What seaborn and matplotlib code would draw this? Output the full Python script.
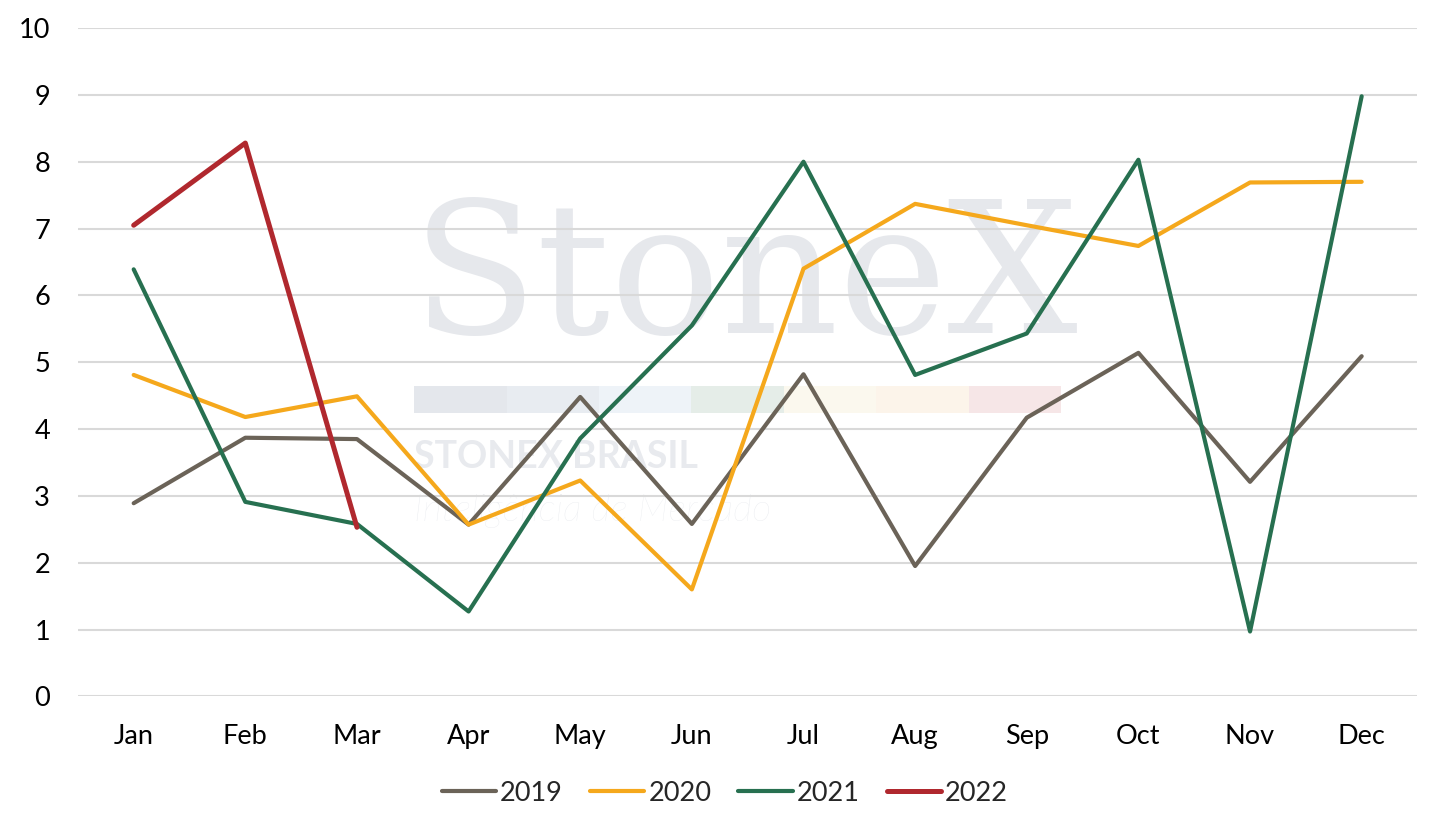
import numpy as np
import pandas as pd
import seaborn as sns
import matplotlib.pyplot as plt
from matplotlib.patches import Rectangle

months = ['Jan', 'Feb', 'Mar', 'Apr', 'May', 'Jun', 'Jul', 'Aug', 'Sep', 'Oct', 'Nov', 'Dec']
v2019 = [2.89, 3.87, 3.85, 2.57, 4.48, 2.58, 4.82, 1.95, 4.17, 5.14, 3.21, 5.09]
v2020 = [4.81, 4.18, 4.49, 2.57, 3.23, 1.60, 6.40, 7.37, 7.05, 6.74, 7.69, 7.70]
v2021 = [6.39, 2.91, 2.58, 1.27, 3.86, 5.55, 8.00, 4.81, 5.43, 8.03, 0.97, 8.98]
v2022 = [7.05, 8.28, 2.53]
years = ['2019', '2020', '2021', '2022']
colors = ['#6B6358', '#F5A81C', '#277050', '#B0282E']

rows = []
for yr, vals in zip(years, [v2019, v2020, v2021, v2022]):
    for m, v in zip(months, vals):
        rows.append({'month': m, 'value': v, 'year': yr})
df = pd.DataFrame(rows)

sns.set_style('white')
plt.rcParams['font.family'] = ['Lato', 'DejaVu Sans']

fig = plt.figure(figsize=(14.42, 8.27), dpi=100)
ax = fig.add_axes([0.054, 0.158, 0.929, 0.808])

# watermark
ax.text(0.498, 0.62, 'StoneX', transform=ax.transAxes, ha='center', va='center',
        fontsize=132, family='DejaVu Serif', color='#E6E8EC', zorder=0)
strip = ['#E4E7EC', '#E8ECF1', '#EEF3F8', '#E5EDE8', '#FBF8EE', '#FCF4EA', '#F6E6E7']
for i, c in enumerate(strip):
    ax.add_patch(Rectangle((0.251 + i * 0.069, 0.424), 0.069, 0.04, transform=ax.transAxes,
                           color=c, lw=0, zorder=0))
ax.text(0.251, 0.342, 'STONEX BRASIL', transform=ax.transAxes, fontsize=27, weight='bold',
        color='#E8EAEE', zorder=0)
ax.text(0.251, 0.262, 'Inteligência de Mercado', transform=ax.transAxes, fontsize=27,
        style='italic', weight='light', color='#E8EAEE', zorder=0)

sns.lineplot(data=df, x='month', y='value', hue='year', palette=colors, sort=False,
             linewidth=3, ax=ax, zorder=3)
for line in ax.get_lines():
    if line.get_color().lower() == '#b0282e':
        line.set_linewidth(3.6)

ax.set_xlim(-0.5, 11.5)
ax.set_ylim(0, 10)
ax.set_yticks(range(0, 11))
ax.yaxis.grid(True, color='#D9D9D9', linewidth=1.5, zorder=1)
ax.set_axisbelow(True)
for s in ax.spines.values():
    s.set_visible(False)
ax.set_xlabel('')
ax.set_ylabel('')
ax.tick_params(axis='both', length=0, labelsize=19.5, colors='black')
ax.tick_params(axis='x', pad=20)
ax.tick_params(axis='y', pad=20)

handles, labels = ax.get_legend_handles_labels()
ax.legend(handles, labels, loc='upper center', bbox_to_anchor=(0.483, -0.09), ncol=4,
          frameon=False, fontsize=19.5, handlelength=2.0, handletextpad=0.15, columnspacing=1.0)

plt.savefig('out.png', dpi=100)
